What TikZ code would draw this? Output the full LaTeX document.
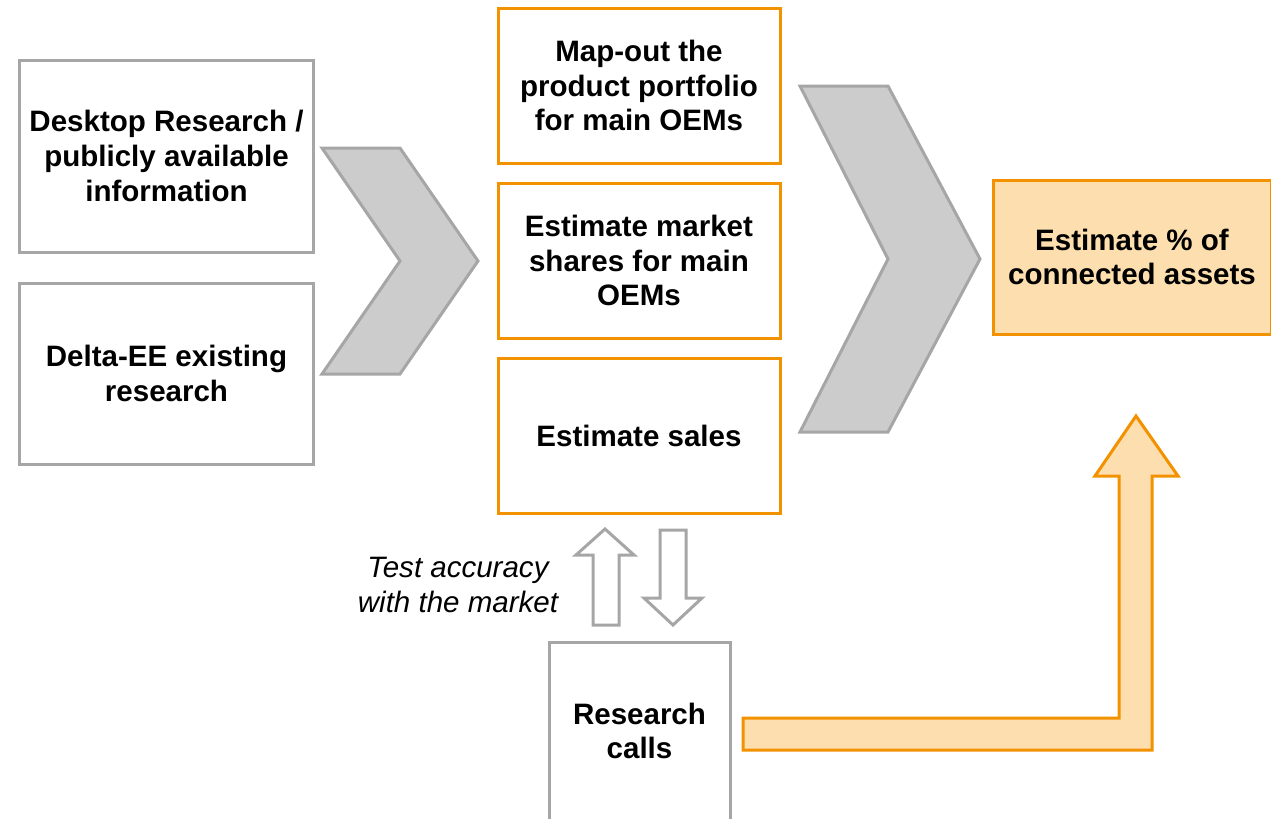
\documentclass[tikz,border=0pt]{standalone}
\usepackage{fontspec}
\setmainfont{Liberation Sans}
\definecolor{boxgray}{HTML}{A6A6A6}
\definecolor{chevfill}{HTML}{CCCCCC}
\definecolor{mainorange}{HTML}{F39200}
\definecolor{lightorange}{HTML}{FDDFAF}

\begin{document}
\begin{tikzpicture}[x=0.2mm, y=-0.2mm,
    every node/.style={font=\fontsize{16.8}{19.8}\selectfont\bfseries, align=center, inner sep=0pt},
    graybox/.style={draw=boxgray, line width=0.6mm, fill=white},
    orangebox/.style={draw=mainorange, line width=0.6mm, fill=white},
    resultbox/.style={draw=mainorange, line width=0.6mm, fill=lightorange},
    chevron/.style={draw=boxgray, line width=0.6mm, fill=chevfill, line join=miter},
    hollowarrow/.style={draw=boxgray, line width=0.6mm, fill=white},
    bigarrow/.style={draw=mainorange, line width=0.6mm, fill=lightorange}]
\useasboundingbox (0,0) rectangle (1271,819);

% Draw input boxes
\node[graybox, minimum width=58.6mm, minimum height=38.4mm] (desktop) at (166.5,156) {Desktop Research /\\publicly available\\information};
\node[graybox, minimum width=58.6mm, minimum height=36.2mm] (delta) at (166.5,373.5) {Delta-EE existing\\research};

% Draw first chevron
\draw[chevron] (322,148) -- (400,148) -- (478,261) -- (400,374) -- (322,374) -- (400,261) -- cycle;

% Draw estimation steps
\node[orangebox, minimum width=56.4mm, minimum height=31mm] (mapout) at (639,85.5) {Map-out the\\product portfolio\\for main OEMs};
\node[orangebox, minimum width=56.4mm, minimum height=31mm] (shares) at (639,260.5) {Estimate market\\shares for main\\OEMs};
\node[orangebox, minimum width=56.4mm, minimum height=31mm] (sales) at (639,435.5) {Estimate sales};

% Draw second chevron
\draw[chevron] (800,86) -- (888,86) -- (980,259) -- (888,432) -- (800,432) -- (888,259) -- cycle;

% Draw result
\node[resultbox, minimum width=55.6mm, minimum height=30.8mm] (result) at (1132,257) {Estimate \% of\\connected assets};

% Draw research calls and feedback arrows
\node[graybox, minimum width=36.2mm, minimum height=35.6mm] (calls) at (639.5,731) {Research\\calls};
\draw[hollowarrow] (593,625) -- (593,555) -- (576,555) -- (605,529) -- (634,555) -- (619,555) -- (619,625) -- cycle;
\draw[hollowarrow] (660,530) -- (660,598) -- (644,598) -- (673,625) -- (702,598) -- (686,598) -- (686,530) -- cycle;
\node[font=\fontsize{16.8}{19.8}\selectfont\itshape] (testacc) at (458,585) {Test accuracy\\with the market};

% Draw arrow from calls to result
\draw[bigarrow] (743,718) -- (1119,718) -- (1119,476) -- (1095,476) -- (1136,416) -- (1178,476) -- (1152,476) -- (1152,750) -- (743,750) -- cycle;
\end{tikzpicture}
\end{document}
